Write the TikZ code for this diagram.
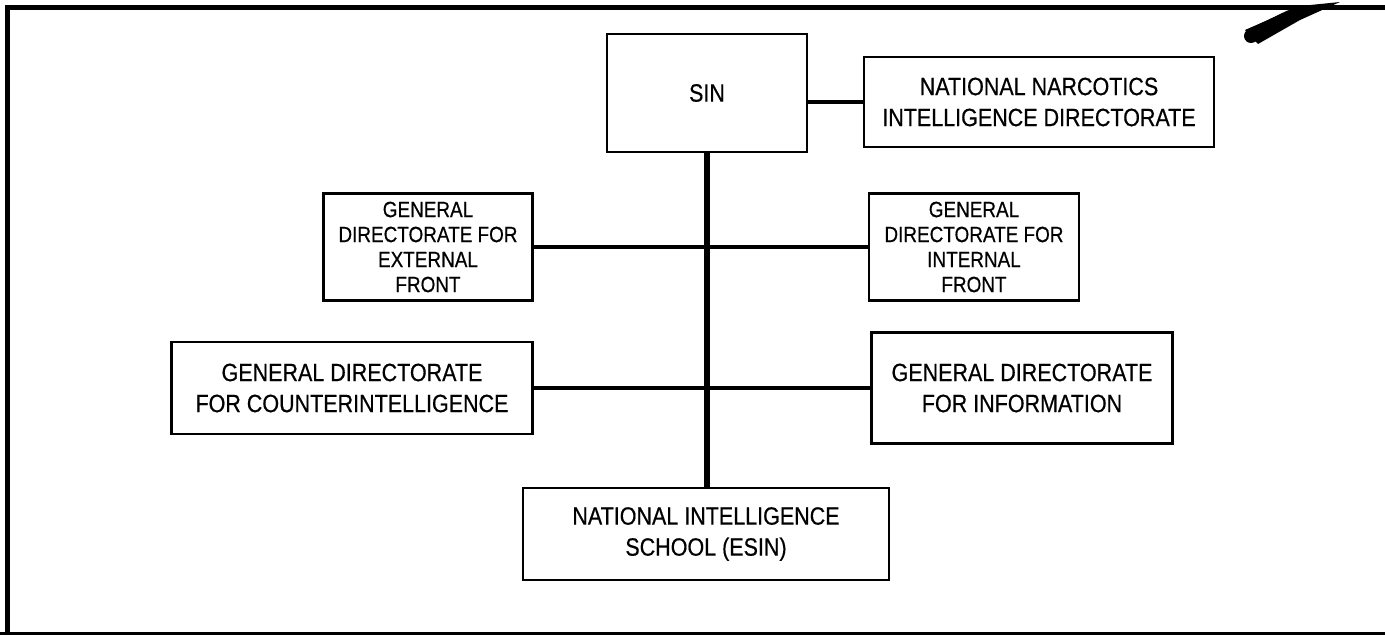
\documentclass[tikz,border=0pt]{standalone}
\usepackage{fontspec}
\setmainfont{Liberation Sans}[FakeStretch=0.86, FakeBold=0.5]
\begin{document}
\begin{tikzpicture}[x=1pt, y=-1pt,
    unit/.style={draw=black, line width=2.6pt, align=center, inner sep=0pt,
        font=\fontsize{25}{31}\selectfont},
    smallunit/.style={unit, font=\fontsize{22}{25}\selectfont},
    link/.style={line width=4.5pt}]
    \useasboundingbox (0,0) rectangle (1385,635);
    % frame of the scanned page
    \draw[line width=5pt] (7,635) -- (7,7) -- (1385,7);
    \draw[line width=3pt] (0,633) -- (1385,633);
    \draw[line width=14pt, line cap=round] (1251,36) -- (1290,17);
    \fill (1245,30) -- (1300,6) -- (1340,2) -- (1300,20) -- (1258,44) -- cycle;
    % units
    \node[unit, minimum width=200, minimum height=118] (sin) at (707,93) {SIN};
    \node[unit, minimum width=350, minimum height=90] (nnid) at (1039,102)
        {NATIONAL NARCOTICS\\INTELLIGENCE DIRECTORATE};
    \node[smallunit, minimum width=209, minimum height=107] (ext) at (428,247)
        {GENERAL\\DIRECTORATE FOR\\EXTERNAL\\FRONT};
    \node[smallunit, minimum width=210, minimum height=107] (int) at (974,247)
        {GENERAL\\DIRECTORATE FOR\\INTERNAL\\FRONT};
    \node[unit, minimum width=361, minimum height=92] (ci) at (352,388)
        {GENERAL DIRECTORATE\\FOR COUNTERINTELLIGENCE};
    \node[unit, minimum width=301, minimum height=111] (info) at (1022,388)
        {GENERAL DIRECTORATE\\FOR INFORMATION};
    \node[unit, minimum width=366, minimum height=92] (esin) at (706,534)
        {NATIONAL INTELLIGENCE\\SCHOOL (ESIN)};
    % connectors
    \draw[link] (sin.east |- nnid.west) -- (nnid.west);
    \draw[link, line width=5.5pt] (sin.south) -- (sin.south |- esin.north);
    \draw[link] (ext.east) -- (int.west);
    \draw[link] (ci.east) -- (info.west);
\end{tikzpicture}
\end{document}
